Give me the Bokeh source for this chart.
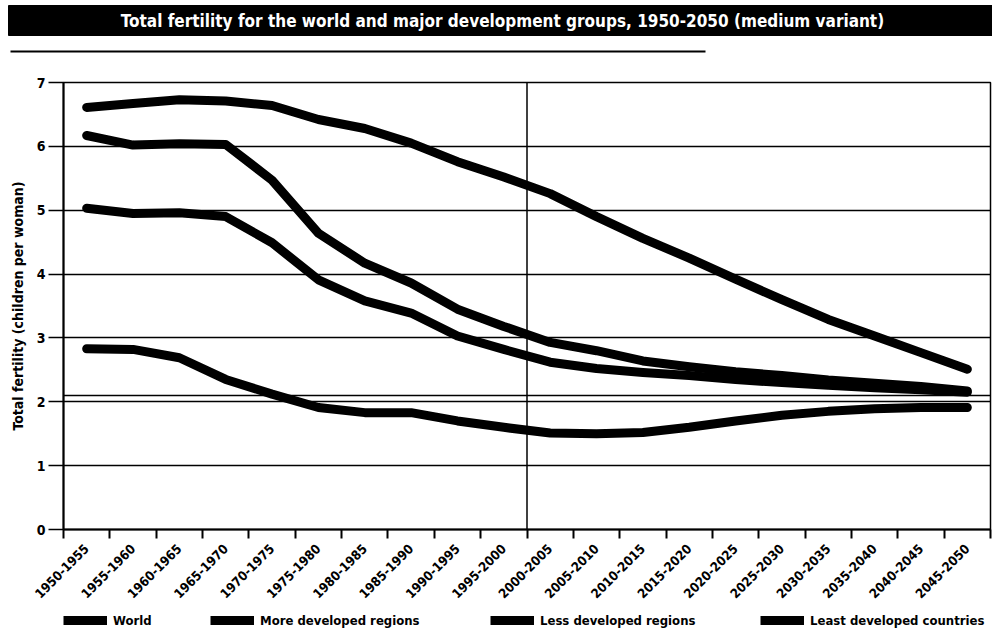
import math
from bokeh.plotting import figure
from bokeh.models import Range1d, FixedTicker, Span, Legend, LegendItem
from bokeh.layouts import column
from bokeh.embed import file_html
from bokeh.resources import INLINE
from bokeh.core.properties import value

# ---------------- data ----------------
periods = ["1950-1955", "1955-1960", "1960-1965", "1965-1970", "1970-1975",
           "1975-1980", "1980-1985", "1985-1990", "1990-1995", "1995-2000",
           "2000-2005", "2005-2010", "2010-2015", "2015-2020", "2020-2025",
           "2025-2030", "2030-2035", "2035-2040", "2040-2045", "2045-2050"]
world = [5.03, 4.95, 4.96, 4.90, 4.49, 3.91, 3.58, 3.39, 3.03, 2.82,
         2.62, 2.52, 2.46, 2.41, 2.35, 2.30, 2.26, 2.22, 2.19, 2.15]
more_developed = [2.83, 2.82, 2.69, 2.35, 2.12, 1.91, 1.83, 1.83, 1.70, 1.60,
                  1.51, 1.50, 1.52, 1.60, 1.70, 1.79, 1.85, 1.89, 1.91, 1.91]
less_developed = [6.17, 6.02, 6.04, 6.03, 5.47, 4.64, 4.17, 3.86, 3.45, 3.18,
                  2.93, 2.80, 2.64, 2.55, 2.47, 2.41, 2.34, 2.29, 2.24, 2.17]
least_developed = [6.61, 6.67, 6.73, 6.71, 6.64, 6.42, 6.28, 6.05, 5.76, 5.52,
                   5.26, 4.90, 4.56, 4.25, 3.92, 3.60, 3.29, 3.03, 2.77, 2.51]
series_names = ["World", "More developed regions", "Less developed regions",
                "Least developed countries"]
y_ticks = [0, 1, 2, 3, 4, 5, 6, 7]
replacement_level = 2.1
projection_start = "2000-2005"
title_text = "Total fertility for the world and major development groups, 1950-2050 (medium variant)"
y_label = "Total fertility (children per woman)"

FONT = "'DejaVu Sans Condensed', 'Roboto', sans-serif"
W = 992
LEFT = 63
RIGHT = 2

# ---------------- title strip ----------------
TH = 60
tf = figure(width=W, height=TH, x_range=Range1d(0, W), y_range=Range1d(0, TH),
            toolbar_location=None, output_backend="svg", min_border=0)
tf.axis.visible = False
tf.grid.visible = False
tf.outline_line_color = None
tf.frame_align = False
tf.quad(left=[8], right=[W], bottom=[TH - 35], top=[TH - 5], color="black")
tf.text(x=[502], y=[TH - 20], text=[title_text], text_color="white",
        text_font=value(FONT), text_font_style="bold", text_font_size="17px",
        text_align="center", text_baseline="middle")
tf.line(x=[10, 705], y=[TH - 51, TH - 51], line_color="black", line_width=2)

# ---------------- main chart ----------------
xs = list(range(1, len(periods) + 1))
boundaries = [i + 0.5 for i in range(0, len(periods) + 1)]

p = figure(width=W, height=545, x_range=Range1d(0.5, len(periods) + 0.5),
           y_range=Range1d(y_ticks[0], y_ticks[-1]),
           toolbar_location=None, output_backend="svg",
           min_border_left=LEFT, min_border_right=RIGHT, min_border_top=22,
           min_border_bottom=74)

p.background_fill_color = "white"
p.outline_line_color = "black"
p.outline_line_width = 1.5

series = [world, more_developed, less_developed, least_developed]
for data in series:
    p.line(xs, data, line_color="black", line_width=9,
           line_join="round", line_cap="round")

# grid
p.xgrid.visible = False
p.ygrid.ticker = FixedTicker(ticks=y_ticks)
p.ygrid.grid_line_color = "black"
p.ygrid.grid_line_width = 1.5
p.ygrid.grid_line_alpha = 1.0

p.add_layout(Span(location=replacement_level, dimension="width",
                  line_color="black", line_width=1.5))
split_x = xs[periods.index(projection_start)] - 0.5
p.add_layout(Span(location=split_x, dimension="height",
                  line_color="black", line_width=1.5))

# x axis
p.xaxis.ticker = FixedTicker(ticks=xs, minor_ticks=boundaries)
p.xaxis.major_label_overrides = {x: lab for x, lab in zip(xs, periods)}
p.xaxis.major_label_orientation = math.pi / 4
p.xaxis.major_tick_in = 0
p.xaxis.major_tick_out = 0
p.xaxis.minor_tick_in = 0
p.xaxis.minor_tick_out = 9
p.xaxis.minor_tick_line_color = "black"
p.xaxis.minor_tick_line_width = 2
p.xaxis.axis_line_color = "black"
p.xaxis.axis_line_width = 2
p.xaxis.major_label_text_font = FONT
p.xaxis.major_label_text_font_style = "bold"
p.xaxis.major_label_text_font_size = "13px"
p.xaxis.major_label_text_color = "black"
p.xaxis.major_label_standoff = 8

# y axis
p.yaxis.ticker = FixedTicker(ticks=y_ticks)
p.yaxis.major_tick_in = 0
p.yaxis.major_tick_out = 15
p.yaxis.major_tick_line_color = "black"
p.yaxis.major_tick_line_width = 1.5
p.yaxis.minor_tick_line_color = None
p.yaxis.axis_line_color = "black"
p.yaxis.axis_line_width = 2
p.yaxis.major_label_text_font = FONT
p.yaxis.major_label_text_font_style = "bold"
p.yaxis.major_label_text_font_size = "14px"
p.yaxis.major_label_text_color = "black"
p.yaxis.major_label_standoff = 3
p.yaxis.axis_label = y_label
p.yaxis.axis_label_text_font = FONT
p.yaxis.axis_label_text_font_style = "bold"
p.yaxis.axis_label_text_font_size = "14px"
p.yaxis.axis_label_text_color = "black"
p.yaxis.axis_label_standoff = 8

# ---------------- legend strip ----------------
LH = 29
lf = figure(width=W, height=LH, x_range=Range1d(0, 1), y_range=Range1d(0, 1),
            toolbar_location=None, output_backend="svg", min_border=0,
            min_border_left=LEFT, min_border_right=RIGHT)
lf.axis.visible = False
lf.grid.visible = False
lf.outline_line_color = None
nan = float("nan")
keys = [lf.line(x=[nan, nan], y=[nan, nan], line_color="black", line_width=9)
        for _ in series]

offsets = [0, 147, 427, 697]
for name, r, off in zip(series_names, keys, offsets):
    leg = Legend(items=[LegendItem(label=name, renderers=[r])],
                 location=(off, 6), orientation="horizontal",
                 padding=0, margin=0, spacing=0,
                 border_line_color=None, background_fill_alpha=0,
                 glyph_width=44, glyph_height=16, label_standoff=6,
                 label_height=16,
                 label_text_font=FONT, label_text_font_style="bold",
                 label_text_font_size="13px", label_text_color="black")
    lf.add_layout(leg)

layout = column(tf, p, lf, spacing=0)
open("out.html", "w").write(file_html(layout, INLINE))
